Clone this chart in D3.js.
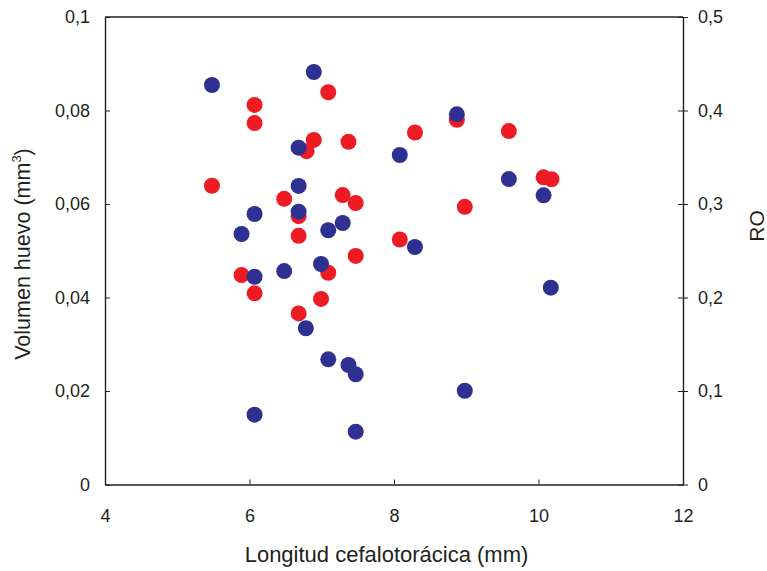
<!DOCTYPE html>
<html>
<head>
<meta charset="utf-8">
<script src="https://cdn.jsdelivr.net/npm/d3@7/dist/d3.min.js"></script>
<style>
  body { margin: 0; background: #fff; }
  svg text { font-family: "Liberation Sans", Arial, sans-serif; fill: #231f20; }
</style>
</head>
<body>
<div id="chart"></div>
<script>
// longitud cefalotoracica (mm) for each female, shared by both series
var longitud = [5.48, 6.07, 6.07, 7.09, 6.89, 6.79, 7.37, 6.48, 7.29, 7.47,
                6.68, 6.68, 7.47, 8.08, 5.89, 7.09, 6.07, 6.99, 6.68, 8.29,
                8.87, 9.59, 10.07, 10.18, 8.98];
// volumen huevo (mm3), left axis, red
var volumen = [0.0639, 0.0812, 0.0773, 0.0839, 0.0737, 0.0713, 0.0733, 0.0611, 0.0619, 0.0602,
               0.0574, 0.0532, 0.0489, 0.0524, 0.0448, 0.0453, 0.0409, 0.0397, 0.0366, 0.0753,
               0.0780, 0.0756, 0.0657, 0.0653, 0.0594];
// longitudes for the RO series
var longitudRO = [5.48, 6.89, 6.68, 6.68, 6.68, 6.07, 5.89, 7.09, 7.29, 6.07,
                  6.48, 6.99, 6.78, 7.09, 7.37, 7.47, 6.07, 7.47, 8.08, 8.29,
                  8.87, 9.59, 10.07, 10.17, 8.98];
// RO, right axis, blue
var ro = [0.4273, 0.4412, 0.3602, 0.3193, 0.2918, 0.2893, 0.2679, 0.2719, 0.2797, 0.2222,
          0.2283, 0.2358, 0.1671, 0.1339, 0.1278, 0.1179, 0.0747, 0.0565, 0.3524, 0.2540,
          0.3959, 0.3267, 0.3093, 0.2105, 0.1003];

var xTicks = [4, 6, 8, 10, 12];
var yLeftTicks = [0, 0.02, 0.04, 0.06, 0.08, 0.1];
var yRightTicks = [0, 0.1, 0.2, 0.3, 0.4, 0.5];

var width = 767, height = 571;
var margin = {top: 17, right: 84, bottom: 86.5, left: 105};
var w = width - margin.left - margin.right,
    h = height - margin.top - margin.bottom;

var ink = "#231f20";
var locale = d3.formatLocale({decimal: ",", thousands: ".", grouping: [3], currency: ["", ""]});

var svg = d3.select("#chart").append("svg")
    .attr("width", width)
    .attr("height", height);

var g = svg.append("g")
    .attr("transform", "translate(" + margin.left + "," + margin.top + ")");

var x = d3.scaleLinear().domain([4, 12]).range([0, w]);
var yL = d3.scaleLinear().domain([0, 0.1]).range([h, 0]);
var yR = d3.scaleLinear().domain([0, 0.5]).range([h, 0]);

// points: red first, blue on top
g.append("g").selectAll("circle")
  .data(volumen)
  .enter().append("circle")
    .attr("cx", function(d, i) { return x(longitud[i]); })
    .attr("cy", function(d) { return yL(d); })
    .attr("r", 8)
    .attr("fill", "#ed1c24");

g.append("g").selectAll("circle")
  .data(ro)
  .enter().append("circle")
    .attr("cx", function(d, i) { return x(longitudRO[i]); })
    .attr("cy", function(d) { return yR(d); })
    .attr("r", 8)
    .attr("fill", "#2e3192");

// axes
var ax = g.append("g")
    .attr("transform", "translate(0," + h + ")")
    .call(d3.axisBottom(x).tickValues(xTicks).tickSizeInner(-5).tickSizeOuter(0).tickPadding(25));

var ayL = g.append("g")
    .call(d3.axisLeft(yL).tickValues(yLeftTicks).tickSizeInner(-5).tickSizeOuter(0).tickPadding(15)
      .tickFormat(function(d) { return locale.format(".2~f")(d); }));

var ayR = g.append("g")
    .attr("transform", "translate(" + w + ",0)")
    .call(d3.axisRight(yR).tickValues(yRightTicks).tickSize(5).tickSizeOuter(0).tickPadding(10)
      .tickFormat(function(d) { return locale.format(".1~f")(d); }));
ayR.selectAll(".tick line").attr("x1", -5);

[ax, ayL, ayR].forEach(function(a) {
  a.select(".domain").attr("stroke", ink).attr("stroke-width", 1.4);
  a.selectAll(".tick line").attr("stroke", ink).attr("stroke-width", 1);
  a.selectAll(".tick text")
    .attr("font-size", 18)
    .attr("font-family", "Liberation Sans, Arial, sans-serif")
    .attr("fill", ink);
});
ax.selectAll(".tick").filter(function(d) { return d === 4 || d === 12; }).select("line").remove();

// top border
g.append("line")
  .attr("x1", 0).attr("x2", w)
  .attr("y1", 0).attr("y2", 0)
  .attr("stroke", ink).attr("stroke-width", 1.4);

// titles
svg.append("text")
  .attr("x", 386.5)
  .attr("y", 562)
  .attr("text-anchor", "middle")
  .attr("font-size", 22)
  .text("Longitud cefalotorácica (mm)");

var yt = svg.append("text")
  .attr("transform", "translate(30,254) rotate(-90)")
  .attr("text-anchor", "middle")
  .attr("font-size", 21.5);
yt.append("tspan").text("Volumen huevo (mm");
yt.append("tspan").attr("font-size", 13).attr("dy", -9).text("3");
yt.append("tspan").attr("dy", 9).text(")");

svg.append("text")
  .attr("transform", "translate(764,226) rotate(-90)")
  .attr("text-anchor", "middle")
  .attr("font-size", 21)
  .text("RO");
</script>
</body>
</html>
